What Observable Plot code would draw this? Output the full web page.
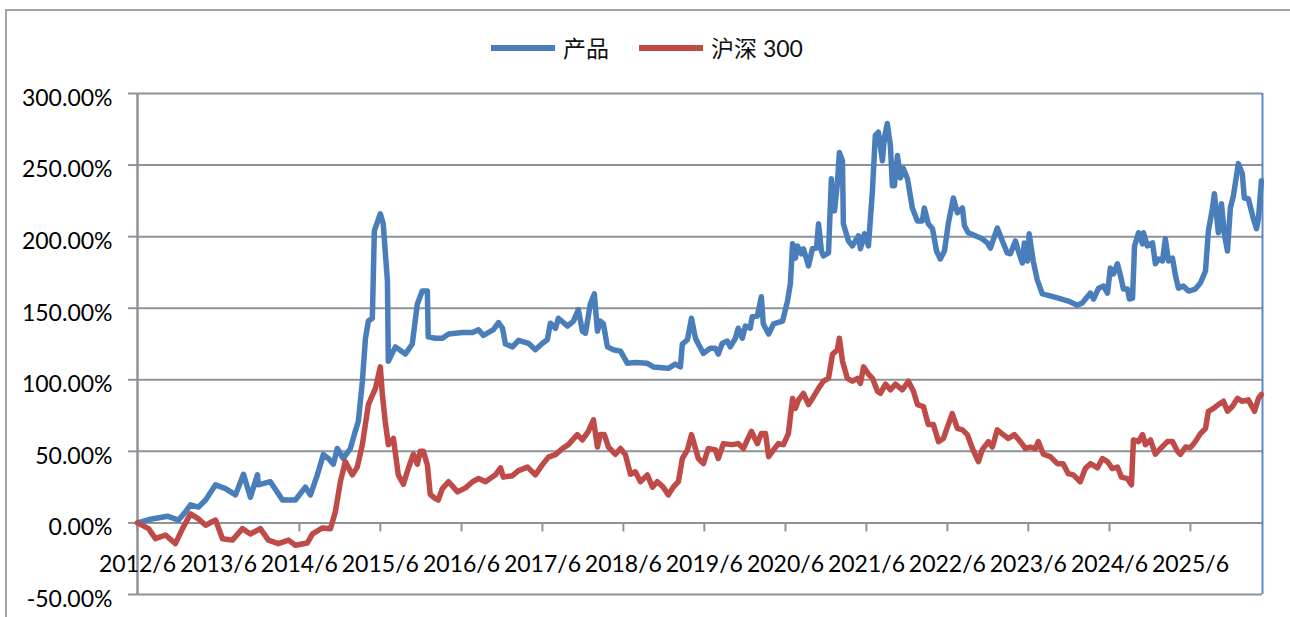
<!DOCTYPE html>
<html>
<head>
<meta charset="utf-8">
<script src="https://cdn.jsdelivr.net/npm/d3@7"></script>
<script src="https://cdn.jsdelivr.net/npm/@observablehq/plot@0.6"></script>
<style>
  html, body { margin: 0; padding: 0; background: #fff; }
  body { width: 1290px; height: 617px; overflow: hidden; position: relative; font-family: Lato, "Noto Sans CJK SC", sans-serif; }
  #frame { position: absolute; left: 5px; top: 9px; width: 1400px; height: 800px; border: 2px solid #a3a3a3; box-sizing: border-box; }
  #legend { position: absolute; left: 0; top: 0; width: 1290px; height: 90px; }
  .sw { position: absolute; top: 45px; width: 64px; height: 6px; }
  .lt { position: absolute; top: 31px; height: 34px; line-height: 34px; font-size: 23px; color: #111; white-space: nowrap; }
  #chart { position: absolute; left: 0; top: 0; }
</style>
</head>
<body>
<div id="frame"></div>
<div id="legend"></div>
<div id="chart"></div>
<script>
// ---- data (cumulative return, %) ----
const seriesNames = ["产品", "沪深 300"];
const seriesColors = ["#4A7EBB", "#BE4B48"];

const productDates = ["2012-06-01","2012-07-30","2012-10-14","2012-12-03","2013-01-03","2013-01-26","2013-03-03","2013-04-04","2013-05-19","2013-07-03","2013-08-17","2013-09-22","2013-10-23","2013-11-24","2013-11-28","2014-01-21","2014-03-17","2014-05-14","2014-06-28","2014-07-21","2014-08-21","2014-09-17","2014-10-10","2014-11-01","2014-11-19","2014-12-16","2015-01-17","2015-02-08","2015-02-22","2015-03-12","2015-03-26","2015-04-08","2015-04-26","2015-05-05","2015-06-01","2015-06-14","2015-07-03","2015-07-07","2015-08-08","2015-09-22","2015-10-23","2015-11-15","2015-12-07","2015-12-30","2016-01-03","2016-02-04","2016-03-07","2016-04-04","2016-06-05","2016-07-21","2016-08-17","2016-09-08","2016-10-23","2016-11-15","2016-12-03","2016-12-16","2017-01-17","2017-02-13","2017-03-30","2017-04-30","2017-06-01","2017-06-23","2017-07-07","2017-07-30","2017-08-12","2017-09-22","2017-10-19","2017-11-10","2017-11-28","2017-12-12","2018-01-03","2018-01-21","2018-02-04","2018-02-17","2018-03-03","2018-03-21","2018-04-17","2018-05-19","2018-06-19","2018-07-25","2018-09-17","2018-10-14","2018-12-21","2019-01-21","2019-02-13","2019-02-22","2019-03-17","2019-04-04","2019-04-22","2019-05-05","2019-05-28","2019-06-28","2019-07-21","2019-08-03","2019-08-21","2019-09-13","2019-09-26","2019-10-19","2019-11-01","2019-11-19","2019-12-03","2019-12-25","2020-01-03","2020-01-26","2020-02-13","2020-02-22","2020-03-17","2020-04-08","2020-05-19","2020-06-10","2020-06-23","2020-07-03","2020-07-16","2020-07-25","2020-08-12","2020-08-21","2020-09-13","2020-09-30","2020-10-19","2020-10-28","2020-11-10","2020-11-19","2020-12-12","2020-12-25","2021-01-08","2021-01-21","2021-01-30","2021-02-13","2021-02-17","2021-03-12","2021-03-30","2021-04-26","2021-05-05","2021-05-23","2021-06-10","2021-06-28","2021-07-11","2021-07-25","2021-08-12","2021-08-21","2021-09-03","2021-09-17","2021-09-26","2021-10-05","2021-10-19","2021-11-01","2021-11-15","2021-12-03","2021-12-25","2022-01-17","2022-02-08","2022-02-17","2022-03-07","2022-03-26","2022-04-13","2022-04-30","2022-05-19","2022-06-05","2022-06-28","2022-07-16","2022-08-08","2022-08-17","2022-09-03","2022-10-05","2022-11-05","2022-11-28","2022-12-12","2023-01-12","2023-02-04","2023-02-26","2023-03-12","2023-04-04","2023-04-17","2023-05-05","2023-05-14","2023-05-28","2023-06-05","2023-06-23","2023-07-11","2023-08-03","2023-08-30","2023-10-14","2023-11-28","2024-01-08","2024-01-30","2024-03-07","2024-03-21","2024-04-13","2024-05-05","2024-05-23","2024-06-05","2024-06-19","2024-07-07","2024-07-21","2024-08-03","2024-08-21","2024-08-30","2024-09-13","2024-09-22","2024-10-10","2024-10-28","2024-11-01","2024-11-19","2024-12-12","2024-12-25","2025-01-08","2025-01-26","2025-02-08","2025-02-22","2025-03-12","2025-03-26","2025-04-08","2025-04-30","2025-05-23","2025-06-23","2025-07-16","2025-08-08","2025-08-21","2025-09-08","2025-09-17","2025-10-05","2025-10-19","2025-11-01","2025-11-15","2025-11-28","2025-12-12","2026-01-03","2026-01-21","2026-01-30","2026-02-17","2026-03-12","2026-03-26","2026-04-04","2026-04-17"];
const productValues = [0,2.6,4.7,2.0,7.7,12.6,11.0,16.0,26.6,24.0,19.6,34.0,18.0,33.6,26.6,28.8,16.0,16.0,25.0,19.6,33.6,47.7,45.0,41.0,52.0,45.0,52.0,64.0,71.0,99.0,129.0,141.0,143.0,204.0,216.0,209.0,169.0,113.0,123.0,118.0,125.0,153.0,162.0,162.0,130.0,129.0,129.0,132.0,133.0,133.0,135.0,131.0,135.0,140.0,136.0,125.0,123.0,127.6,125.5,121.0,125.5,128.0,139.5,136.0,143.0,137.5,141.0,149.0,134.0,132.5,153.0,160.0,134.0,141.0,139.0,123.0,121.0,120.0,111.5,112.0,111.5,109.0,108.0,111.0,109.0,125.0,128.0,143.0,129.0,125.0,118.5,122.0,122.0,118.0,125.5,127.0,123.0,129.0,136.0,129.0,137.5,136.0,144.0,144.5,158.0,139.0,132.0,139.0,141.0,155.0,167.0,195.0,185.0,193.5,188.0,191.5,179.5,191.5,192.0,209.0,190.0,186.5,188.6,240.5,218.0,237.0,258.8,253.0,209.0,197.0,193.5,200.6,191.5,202.0,193.5,232.0,270.7,273.0,253.0,269.0,279.0,263.7,235.6,235.6,256.7,241.0,247.5,240.5,220.0,211.0,211.0,220.0,209.0,205.5,190.0,184.4,190.0,209.0,227.0,216.7,220.0,207.6,202.7,200.6,198.5,195.6,192.0,206.0,197.0,188.6,188.0,197.0,190.0,181.6,195.6,183.0,202.0,183.0,170.0,160.0,159.0,157.0,155.0,152.0,153.6,160.6,156.4,164.0,165.5,160.6,178.0,174.0,181.0,172.5,163.4,163.4,156.4,157.0,193.5,202.7,195.0,202.7,193.5,195.6,181.0,184.4,183.0,198.5,183.0,185.0,172.5,164.0,165.5,162.0,163.4,167.6,176.0,204.0,219.5,230.0,202.7,223.0,202.0,190.0,220.0,228.6,251.0,244.0,227.0,226.5,212.5,205.5,213.0,239.0];

const hs300Dates = ["2012-06-01","2012-07-21","2012-08-21","2012-10-05","2012-11-19","2012-12-21","2013-01-26","2013-03-03","2013-04-04","2013-05-19","2013-06-19","2013-08-03","2013-09-17","2013-10-23","2013-12-07","2014-01-12","2014-02-26","2014-04-13","2014-05-14","2014-07-07","2014-07-30","2014-09-13","2014-10-19","2014-11-10","2014-12-03","2014-12-25","2015-01-26","2015-02-17","2015-03-12","2015-04-08","2015-05-10","2015-06-01","2015-06-10","2015-06-23","2015-07-07","2015-07-30","2015-08-21","2015-09-13","2015-10-05","2015-10-28","2015-11-15","2015-11-28","2015-12-12","2015-12-30","2016-01-12","2016-02-04","2016-02-17","2016-03-07","2016-04-04","2016-05-14","2016-06-19","2016-07-21","2016-08-17","2016-09-17","2016-11-01","2016-11-24","2016-12-07","2017-01-17","2017-02-13","2017-03-26","2017-04-30","2017-06-01","2017-06-28","2017-07-30","2017-08-30","2017-09-26","2017-11-05","2017-11-28","2017-12-25","2018-01-17","2018-02-04","2018-02-17","2018-03-07","2018-03-26","2018-04-26","2018-05-19","2018-06-10","2018-07-03","2018-07-25","2018-08-17","2018-09-17","2018-10-10","2018-11-01","2018-11-28","2018-12-21","2019-01-12","2019-02-04","2019-02-22","2019-03-17","2019-04-04","2019-04-22","2019-05-05","2019-05-28","2019-06-19","2019-07-21","2019-08-03","2019-08-26","2019-10-05","2019-11-01","2019-11-24","2019-12-30","2020-01-26","2020-02-13","2020-03-03","2020-03-17","2020-04-08","2020-04-30","2020-05-23","2020-06-14","2020-07-03","2020-07-16","2020-07-30","2020-08-21","2020-09-13","2020-10-05","2020-10-28","2020-11-19","2020-12-12","2020-12-30","2021-01-21","2021-01-30","2021-02-13","2021-03-07","2021-03-30","2021-04-22","2021-05-05","2021-05-19","2021-06-10","2021-06-28","2021-07-21","2021-08-03","2021-08-26","2021-09-17","2021-10-10","2021-11-10","2021-12-07","2021-12-30","2022-01-17","2022-02-13","2022-03-07","2022-03-30","2022-04-22","2022-05-14","2022-06-05","2022-06-23","2022-07-16","2022-08-08","2022-08-30","2022-09-22","2022-10-19","2022-11-05","2022-12-03","2022-12-21","2023-01-12","2023-02-08","2023-03-03","2023-03-30","2023-04-26","2023-05-19","2023-06-10","2023-07-03","2023-07-16","2023-08-08","2023-09-08","2023-10-10","2023-11-05","2023-11-28","2023-12-21","2024-01-21","2024-02-13","2024-03-07","2024-04-08","2024-04-30","2024-05-23","2024-06-14","2024-07-07","2024-07-25","2024-08-21","2024-09-08","2024-09-17","2024-10-10","2024-10-28","2024-11-10","2024-12-03","2024-12-25","2025-01-17","2025-02-17","2025-03-12","2025-04-04","2025-04-17","2025-05-10","2025-06-01","2025-06-23","2025-07-16","2025-08-08","2025-08-21","2025-09-13","2025-10-05","2025-10-28","2025-11-15","2025-12-07","2025-12-30","2026-01-21","2026-02-17","2026-03-17","2026-04-04","2026-04-17"];
const hs300Values = [0,-4.0,-11.0,-8.4,-14.5,-4.0,6.3,2.8,-1.6,2.0,-11.0,-12.0,-4.0,-7.7,-4.0,-12.0,-14.5,-12.0,-15.6,-14.0,-7.7,-3.5,-4.0,7.7,28.8,42.8,33.6,39.0,54.7,82.7,94.0,109.0,90.0,71.0,54.7,59.0,33.6,27.0,38.0,48.0,41.0,50.0,50.0,40.7,20.0,17.0,16.0,24.0,28.8,21.7,24.5,28.8,31.0,28.8,33.6,38.5,32.0,33.0,36.5,39.0,33.6,40.7,46.0,47.7,52.0,54.7,61.7,58.0,64.0,72.0,53.0,61.7,61.7,53.0,48.0,52.0,47.7,34.0,35.7,28.8,33.6,25.0,28.8,25.0,19.6,25.0,28.8,45.0,51.0,61.7,52.0,45.0,41.4,52.0,51.0,45.0,55.4,54.7,55.4,52.0,64.0,55.4,62.4,62.4,46.3,51.0,55.4,54.7,62.4,87.0,80.0,86.0,90.5,82.7,88.0,94.0,99.0,101.0,117.8,121.0,129.0,113.0,101.0,99.0,101.0,97.5,109.0,104.0,101.0,92.0,90.5,97.0,93.0,97.0,93.0,99.0,92.0,82.7,81.3,68.7,68.7,56.8,59.0,68.7,76.4,66.0,65.0,61.7,52.0,42.8,51.0,56.8,53.0,65.0,61.7,59.0,61.7,56.8,52.0,53.0,52.0,56.8,48.0,46.3,41.4,41.4,34.4,33.6,28.8,38.0,41.4,38.5,45.0,42.8,38.0,39.0,32.0,31.0,26.6,58.0,56.8,61.7,54.7,58.0,48.0,52.0,56.8,56.8,50.0,48.0,53.0,52.6,56.8,62.4,66.0,78.0,80.0,82.7,85.0,78.0,81.3,87.0,85.0,86.0,78.0,87.0,89.8];

// axis ticks
const yTicks = [-50, 0, 50, 100, 150, 200, 250, 300];
const xTickDates = ["2012-06-01","2013-06-01","2014-06-01","2015-06-01","2016-06-01","2017-06-01","2018-06-01","2019-06-01","2020-06-01","2021-06-01","2022-06-01","2023-06-01","2024-06-01","2025-06-01"];
const xTickLabels = ["2012/6","2013/6","2014/6","2015/6","2016/6","2017/6","2018/6","2019/6","2020/6","2021/6","2022/6","2023/6","2024/6","2025/6"];
const xDomain = ["2012-06-01", "2026-04-22"];

// ---- build ----
const parse = s => new Date(s + "T00:00:00Z");
const product = productDates.map((d, i) => ({date: parse(d), value: productValues[i], series: seriesNames[0]}));
const hs300 = hs300Dates.map((d, i) => ({date: parse(d), value: hs300Values[i], series: seriesNames[1]}));
const xTicks = xTickDates.map(parse);
const labelOf = new Map(xTickDates.map((d, i) => [+parse(d), xTickLabels[i]]));

const W = 1290, H = 617, mL = 137, mR = 28, mT = 93, mB = 23;
const yMin = -50, yMax = 300;
const zeroOffset = (H - mT - mB) * (0 - yMin) / (yMax - yMin); // px from bottom to zero line
const gray = "#8e9399";

const chart = Plot.plot({
  width: W, height: H,
  marginLeft: mL, marginRight: mR, marginTop: mT, marginBottom: mB,
  style: {fontFamily: "Lato, 'Noto Sans CJK SC', sans-serif", fontSize: "23px", color: "#000", background: "transparent", overflow: "visible"},
  x: {type: "utc", domain: xDomain.map(parse), label: null},
  y: {domain: [yMin, yMax], label: null},
  marks: [
    Plot.ruleY(yTicks, {stroke: gray, strokeWidth: 2}),
    Plot.axisY({ticks: yTicks, label: null, tickSize: 9, stroke: gray, strokeWidth: 2, strokeOpacity: 1, tickFormat: () => ""}),
    Plot.axisY({ticks: yTicks, label: null, tickSize: 0, tickPadding: 25, dy: 5, tickFormat: d => d.toFixed(2) + "%", fill: "#000"}),
    Plot.ruleX([parse(xDomain[0])], {stroke: gray, strokeWidth: 2.5}),
    Plot.ruleX([parse(xDomain[1])], {stroke: "#5a8ac8", strokeWidth: 2}),
    Plot.axisX({ticks: xTicks, label: null, anchor: "bottom", tickSize: 9, tickPadding: 24, dy: -zeroOffset, stroke: gray, strokeWidth: 2, strokeOpacity: 1, fill: "#000", tickFormat: d => labelOf.get(+d)}),
    Plot.line(product, {x: "date", y: "value", stroke: seriesColors[0], strokeWidth: 5.5, strokeLinejoin: "round", strokeLinecap: "round"}),
    Plot.line(hs300, {x: "date", y: "value", stroke: seriesColors[1], strokeWidth: 5.5, strokeLinejoin: "round", strokeLinecap: "round"})
  ]
});
document.getElementById("chart").appendChild(chart);

// ---- legend ----
const legend = document.getElementById("legend");
const legendPos = [{sw: 491, tx: 563}, {sw: 639, tx: 711}];
seriesNames.forEach((name, i) => {
  const s = document.createElement("div");
  s.className = "sw"; s.style.left = legendPos[i].sw + "px"; s.style.background = seriesColors[i];
  legend.appendChild(s);
  const t = document.createElement("div");
  t.className = "lt"; t.style.left = legendPos[i].tx + "px"; t.textContent = name;
  legend.appendChild(t);
});
</script>
</body>
</html>
